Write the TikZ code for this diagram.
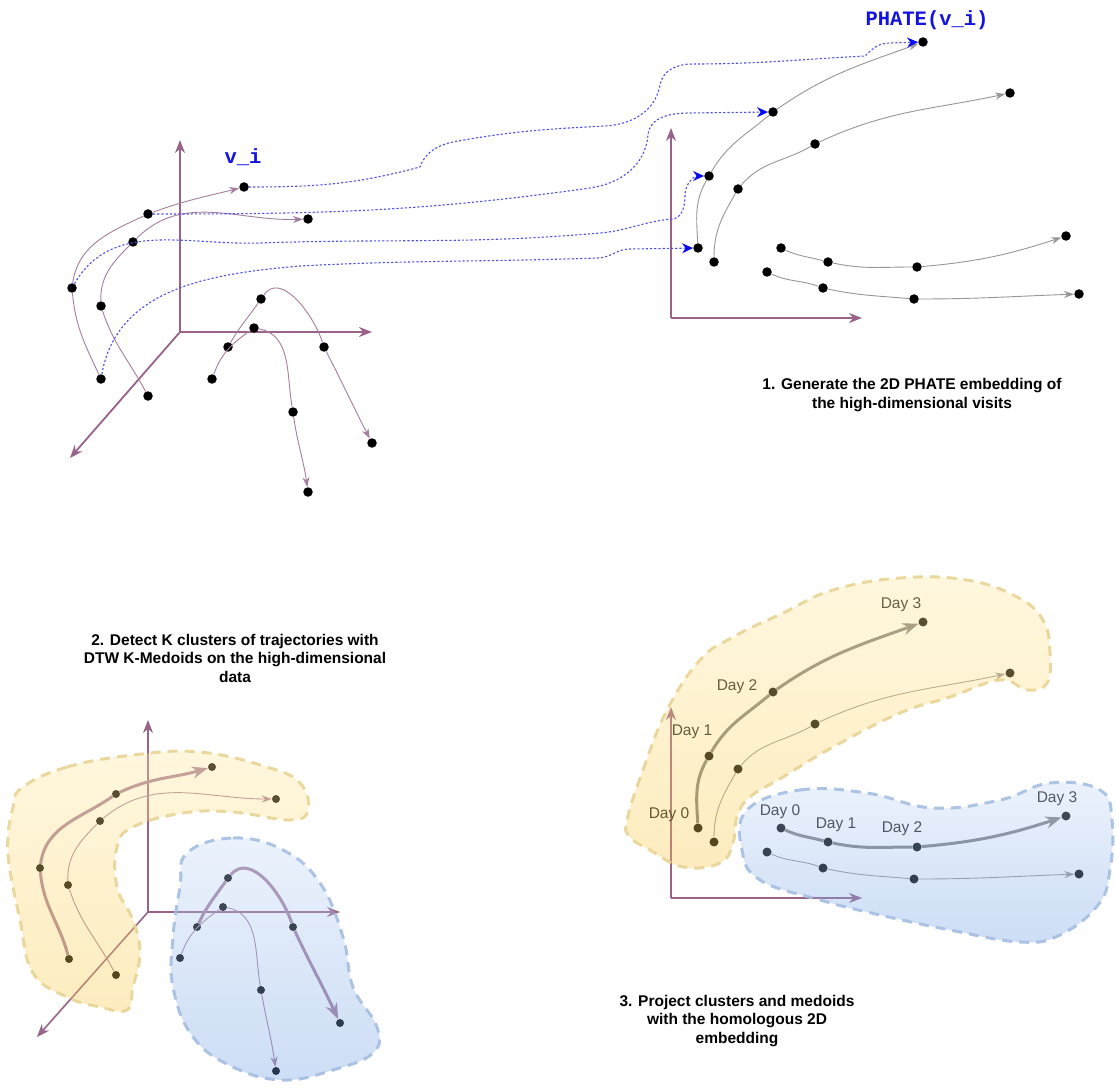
\documentclass[tikz,border=0pt]{standalone}
\usepackage{fontspec}
\setmainfont{Liberation Sans}
\setmonofont{Liberation Mono}
\usetikzlibrary{arrows.meta, positioning}
\definecolor{axiscol}{RGB}{153,98,136}
\definecolor{trajcol}{RGB}{165,125,157}
\definecolor{trajgray}{RGB}{150,150,150}
\definecolor{medgray}{RGB}{125,125,125}
\definecolor{linkblue}{RGB}{80,80,235}
\definecolor{tipblue}{RGB}{10,10,240}
\definecolor{lblblue}{RGB}{20,20,225}
\definecolor{ytop}{RGB}{255,232,160}
\definecolor{ybot}{RGB}{248,200,70}
\definecolor{yline}{RGB}{232,212,150}
\definecolor{btop}{RGB}{198,218,246}
\definecolor{bbot}{RGB}{110,158,228}
\definecolor{bline}{RGB}{165,190,225}
% PHATE embedding points (page pixels, y down)
\newcommand{\phatepts}{1/923/42, 2/773/112, 3/709/176, 4/698/248, 5/714/262, 6/738/189, 7/815/144, 8/1010/93,
  9/781/248, 10/828/262, 11/917/267, 12/1066/236, 13/767/272, 14/823/288, 15/914/299, 16/1079/294}

\begin{document}
\begin{tikzpicture}[x=1pt, y=1pt,
  dot/.style={circle, fill=black, inner sep=0pt, minimum size=9.5pt},
  sdot/.style={dot, minimum size=8pt},
  axis/.style={-{Stealth[length=13pt, width=10pt]}, line width=1.8pt, draw=axiscol},
  traj/.style={-{Stealth[length=10pt, width=7pt]}, draw=trajcol, line width=0.9pt},
  ptraj/.style={traj, draw=trajgray},
  medoid/.style={traj, line width=3pt, -{Stealth[length=16pt, width=12pt]}},
  link/.style={dash pattern=on 2.2pt off 2pt, draw=linkblue, line width=1.1pt,
    -{Stealth[length=11pt, width=10pt, color=tipblue, fill=tipblue]}},
  caption/.style={font=\bfseries\fontsize{15.5}{18.5}\selectfont, align=center},
  daylbl/.style={font=\fontsize{15.5}{18}\selectfont, text=black!90},
  vlabel/.style={font=\ttfamily\bfseries\fontsize{20.5}{22}\selectfont, text=lblblue},
  blob/.style={line width=3pt, dash pattern=on 10pt off 7pt, fill opacity=0.35, draw opacity=0.9},
  yblob/.style={blob, top color=ytop, bottom color=ybot, draw=yline},
  bblob/.style={blob, top color=btop, bottom color=bbot, draw=bline}
]
\useasboundingbox (0,0) rectangle (1116,-1091);

% 1. high-dimensional visits
\coordinate (o1) at (180,-332);
\coordinate (o1y) at (180,-140);
\coordinate (o1x) at (372,-332);
\coordinate (o1z) at (70,-458);
\foreach \e in {y,x,z} \draw[axis] (o1) -- (o1\e);
\foreach \n/\x/\y in {1/244/187, 2/148/214, 3/308/219, 4/133/242, 5/72/288, 6/101/306, 7/101/379, 8/148/396,
  9/261/299, 10/254/328, 11/228/347, 12/324/347, 13/212/379, 14/293/412, 15/372/443, 16/308/492}
  \node[dot] (h\n) at (\x,-\y) {};
\draw[traj] (h7) to[out=115,in=-85] (h5) to[out=82,in=205] (h2) to[out=20,in=194] (h1);
\draw[traj] (h8) to[out=118,in=-72] (h6) to[out=92,in=225] (h4) to[out=45,in=182] (h3);
\draw[traj] (h11) to[out=60,in=235] (h9) to[out=55,in=108] (h12) to[out=-63,in=117] (h15);
\draw[traj] (h13) to[out=70,in=215] (h10) to[out=-10,in=100] (h14) to[out=-82,in=98] (h16);
\node[vlabel] (vlbl) at (243,-157) {v\_i};

% PHATE embedding
\coordinate (o2) at (671,-318);
\coordinate (o2y) at (671,-128);
\coordinate (o2x) at (862,-318);
\foreach \e in {y,x} \draw[axis, line width=1.6pt] (o2) -- (o2\e);
\foreach \n/\x/\y in \phatepts \node[dot] (p\n) at (\x,-\y) {};
\draw[ptraj] (p4) to[out=93,in=240] (p3) to[out=60,in=220] (p2) to[out=35,in=200] (p1);
\draw[ptraj] (p5) to[out=90,in=240] (p6) to[out=50,in=210] (p7) to[out=25,in=192] (p8);
\draw[ptraj] (p9) to[out=-25,in=165] (p10) to[out=-12,in=180] (p11) to[out=5,in=198] (p12);
\draw[ptraj] (p13) to[out=-25,in=160] (p14) to[out=-12,in=175] (p15) to[out=0,in=182] (p16);
\node[vlabel] (plbl) at (927,-20) {PHATE(v\_i)};

% links from the visits to their embedding
\draw[link] (h1) to[out=0,in=195] (420,-167) to[out=70,in=190] (458,-141) to[out=10,in=183] (605,-126)
  to[out=3,in=-100] (660,-85) to[out=80,in=180] (692,-64) to[out=0,in=183] (865,-56) to[out=45,in=180] (890,-43) -- (p1);
\draw[link] (h2) to[out=0,in=188] (590,-188) to[out=8,in=-95] (648,-135) to[out=85,in=180] (690,-113) -- (p2);
\draw[link] (h5) to[out=60,in=182] (260,-243) to[out=2,in=185] (600,-233) to[out=5,in=185] (672,-219)
  to[out=5,in=-90] (685,-195) to[out=90,in=180] (p3);
\draw[link] (h7) to[out=80,in=185] (300,-266) to[out=3,in=182] (598,-258) to[out=2,in=180] (630,-249) -- (p4);

\node[caption] (cap1) at (912,-395) {1. Generate the 2D PHATE embedding of\\the high-dimensional visits};

% 2. clusters in high dimension
\node[caption] (cap2) at (235,-658) {2. Detect K clusters of trajectories with\\DTW K-Medoids on the high-dimensional\\data};
\coordinate (o3) at (148,-912);
\coordinate (o3y) at (148,-720);
\coordinate (o3x) at (340,-912);
\coordinate (o3z) at (37,-1037);
\foreach \e in {y,x,z} \draw[axis, line width=1.6pt] (o3) -- (o3\e);
\foreach \n/\x/\y in {ym1/212/767, ym2/116/794, ym3/40/868, ym4/69/959, yt1/276/799, yt2/100/821, yt3/68/885, yt4/116/975,
  bm1/197/927, bm2/228/878, bm3/293/927, bm4/340/1023, bt1/180/958, bt2/223/907, bt3/261/990, bt4/276/1071}
  \node[sdot] (\n) at (\x,-\y) {};
\draw[medoid] (ym4) to[out=105,in=-85] (ym3) to[out=82,in=215] (ym2) to[out=25,in=196] (ym1);
\draw[traj] (yt4) to[out=118,in=-72] (yt3) to[out=92,in=225] (yt2) to[out=40,in=180] (yt1);
\draw[medoid] (bm1) to[out=65,in=235] (bm2) to[out=50,in=108] (bm3) to[out=-65,in=115] (bm4);
\draw[traj] (bt1) to[out=70,in=215] (bt2) to[out=-10,in=100] (bt3) to[out=-80,in=98] (bt4);
\draw[yblob] plot[smooth cycle, tension=0.7] coordinates {(23,-787) (67,-767) (133,-755) (200,-752) (267,-767)
  (300,-783) (308,-810) (290,-820) (233,-812) (183,-813) (133,-827) (117,-847) (117,-887) (133,-920) (140,-953)
  (133,-987) (127,-1010) (100,-1007) (67,-997) (33,-973) (20,-920) (8,-853) (13,-807)};
\draw[bblob] plot[smooth cycle, tension=0.7] coordinates {(187,-853) (233,-838) (283,-850) (320,-883) (343,-937)
  (353,-987) (377,-1027) (373,-1053) (333,-1070) (283,-1080) (233,-1067) (193,-1037) (173,-987) (173,-937) (180,-887)};

% 3. clusters projected on the embedding
\coordinate (o4) at (671,-898);
\coordinate (o4y) at (671,-707);
\coordinate (o4x) at (862,-898);
\foreach \e in {y,x} \draw[axis, line width=1.4pt] (o4) -- (o4\e);
\foreach \n/\x/\y in \phatepts \node[sdot, minimum size=9pt] (r\n) at (\x,-\y-580) {};
\draw[ptraj, medoid, draw=medgray] (r4) to[out=93,in=240] (r3) to[out=60,in=220] (r2) to[out=35,in=200] (r1);
\draw[ptraj] (r5) to[out=90,in=240] (r6) to[out=50,in=210] (r7) to[out=25,in=192] (r8);
\draw[ptraj, medoid, draw=medgray] (r9) to[out=-25,in=165] (r10) to[out=-12,in=180] (r11) to[out=5,in=198] (r12);
\draw[ptraj] (r13) to[out=-25,in=160] (r14) to[out=-12,in=175] (r15) to[out=0,in=182] (r16);
\foreach \n/\t/\x/\y in {ya/Day 3/901/605, yb/Day 2/737/687, yc/Day 1/692/732, yd/Day 0/669/815,
  ba/Day 0/780/812, bb/Day 1/836/825, bc/Day 2/902/829, bd/Day 3/1057/799}
  \node[daylbl] (\n) at (\x,-\y) {\t};
\draw[yblob] plot[smooth cycle, tension=0.7] coordinates {(627,-820) (643,-770) (667,-710) (700,-660) (733,-637)
  (783,-613) (833,-590) (900,-578) (967,-580) (1017,-597) (1043,-620) (1050,-653) (1047,-683) (1027,-690)
  (1000,-680) (950,-697) (900,-713) (833,-747) (783,-777) (750,-797) (737,-817) (733,-843) (720,-863)
  (683,-867) (650,-850) (630,-837)};
\draw[bblob] plot[smooth cycle, tension=0.7] coordinates {(747,-810) (800,-790) (867,-793) (933,-808) (1000,-800)
  (1050,-783) (1100,-790) (1112,-820) (1110,-870) (1098,-905) (1060,-935) (1020,-942) (950,-930) (880,-915)
  (820,-900) (760,-880) (742,-850)};
\node[caption] (cap3) at (737,-1021) {3. Project clusters and medoids\\with the homologous 2D\\embedding};
\end{tikzpicture}
\end{document}
